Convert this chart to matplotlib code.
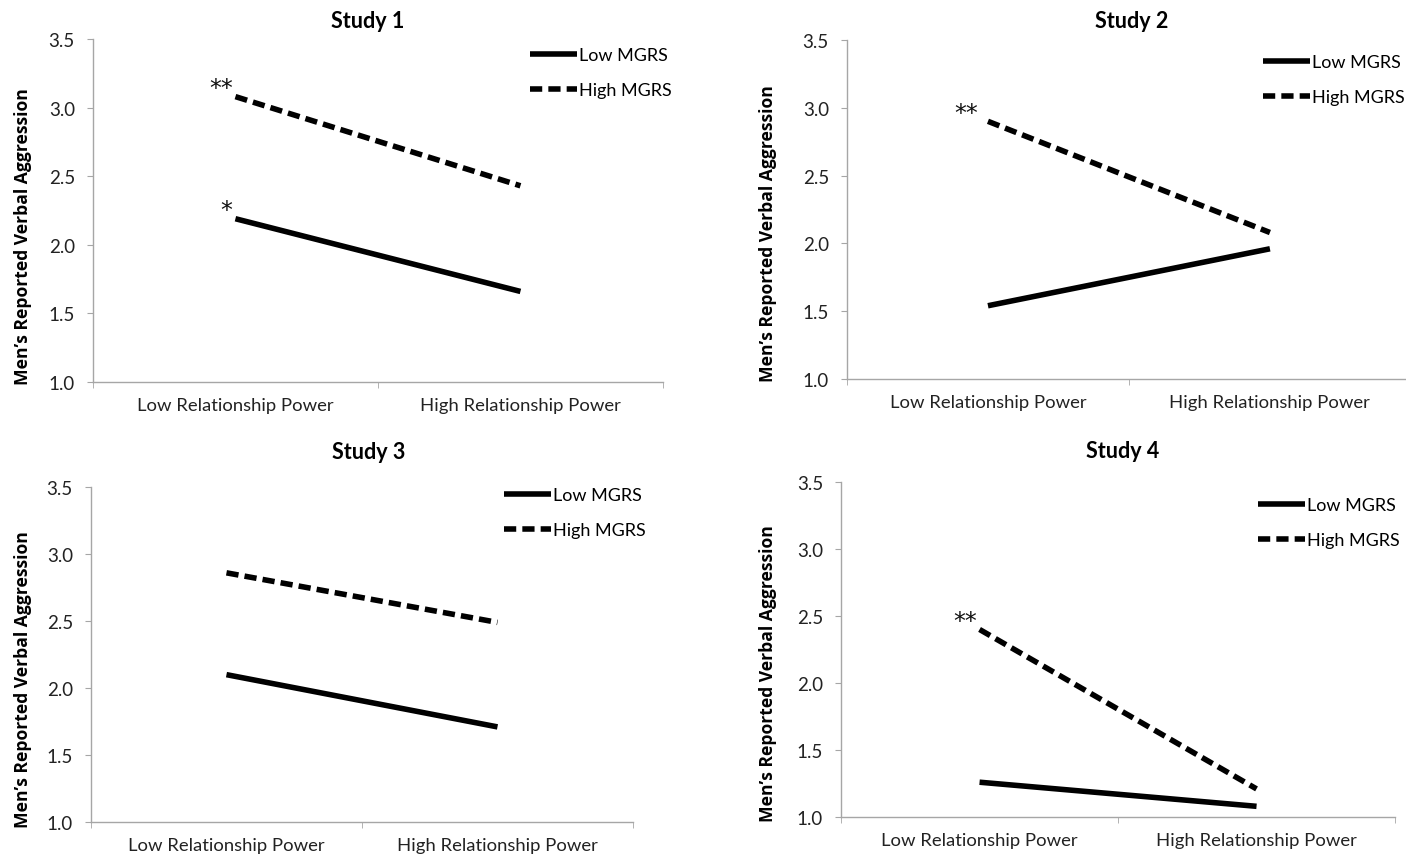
import numpy as np
import matplotlib
matplotlib.use('Agg')
import matplotlib.pyplot as plt

# Cell means (x = low / high relationship power)
categories = ['Low Relationship Power', 'High Relationship Power']
studies = ['Study 1', 'Study 2', 'Study 3', 'Study 4']
low_mgrs = [[2.19, 1.66], [1.54, 1.96], [2.10, 1.71], [1.26, 1.08]]
high_mgrs = [[3.08, 2.43], [2.90, 2.08], [2.86, 2.49], [2.40, 1.21]]
# significance stars at the low-power point: (series, label)
stars = [[('high', '**'), ('low', '*')], [('high', '**')], [], [('high', '**')]]
yticks = [1.0, 1.5, 2.0, 2.5, 3.0, 3.5]

plt.rcParams['font.family'] = ['Lato', 'DejaVu Sans']

fig = plt.figure(figsize=(14.06, 8.62), dpi=100)

# axes boxes (left, bottom, width, height) in figure fractions
boxes = [[0.0661, 0.5557, 0.4054, 0.3979],
         [0.6024, 0.5592, 0.4011, 0.3933],
         [0.0647, 0.0452, 0.3855, 0.3886],
         [0.5982, 0.0510, 0.3940, 0.3886]]
legend_pos = [(0.767, 0.901), (0.738, 0.882), (0.762, 0.924), (0.752, 0.878)]
title_pos = [(368, 22), (1132, 22), (369, 453), (1123, 452)]
ylabel_pos = [(23, 237), (768, 234), (23, 680), (768, 674)]
star_off = [(-2, 6), (-7, 6), (-2, 6), (-2, 6)]

grey = '#a6a6a6'
x = np.arange(len(categories))

for i in range(4):
    ax = fig.add_axes(boxes[i])
    ax.plot(x, low_mgrs[i], color='black', lw=4, solid_capstyle='butt', label='Low MGRS')
    ax.plot(x, high_mgrs[i], color='black', lw=4, dashes=(2.2, 1.1),
            dash_capstyle='butt', label='High MGRS')

    for which, s in stars[i]:
        val = high_mgrs[i][0] if which == 'high' else low_mgrs[i][0]
        ax.annotate(s, xy=(0, val), xytext=star_off[i], textcoords='offset points',
                    ha='right', va='center', fontsize=17, color='#111111',
                    family=['DejaVu Sans'])

    ax.set_xlim(-0.5, 1.5)
    ax.set_ylim(1.0, 3.5)
    ax.set_yticks(yticks)
    ax.set_yticklabels(['%.1f' % t for t in yticks])
    ax.set_xticks(x)
    ax.set_xticklabels(categories)
    ax.set_xticks([-0.5, 0.5, 1.5], minor=True)
    ax.tick_params(axis='x', which='major', length=0, pad=11, labelsize=13.3, colors='#222222')
    ax.tick_params(axis='x', which='minor', length=4, color=grey)
    ax.tick_params(axis='y', length=4, color=grey, pad=9, labelsize=13.5, labelcolor='#222222')
    for side in ['top', 'right']:
        ax.spines[side].set_visible(False)
    for side in ['left', 'bottom']:
        ax.spines[side].set_color(grey)
        ax.spines[side].set_linewidth(1.0)

    ax.legend(loc='center left', bbox_to_anchor=legend_pos[i], frameon=False,
              fontsize=13, handlelength=2.6, handletextpad=0.12, labelspacing=1.05,
              borderpad=0, borderaxespad=0)

    tx, ty = title_pos[i]
    fig.text(tx / 1406, 1 - ty / 862, studies[i], ha='center', va='center',
             fontsize=15.5, fontweight='bold')
    lx, ly = ylabel_pos[i]
    fig.text(lx / 1406, 1 - ly / 862, 'Men’s Reported Verbal Aggression', rotation=90,
             ha='center', va='center', fontsize=12.6, fontweight='bold',
             family=['Open Sans', 'DejaVu Sans'])

fig.savefig('out.png', dpi=100)
